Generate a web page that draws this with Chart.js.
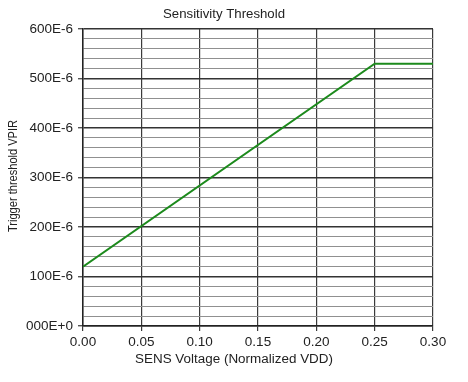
<!DOCTYPE html>
<html>
<head>
<meta charset="utf-8">
<script src="https://cdn.jsdelivr.net/npm/chart.js@4/dist/chart.umd.min.js"></script>
<style>
html,body{margin:0;padding:0;background:#fff;}
canvas{display:block;}
</style>
</head>
<body>
<canvas id="c" width="468" height="382"></canvas>
<script>
// Data
const sensVoltage = [0.00, 0.25, 0.30];
const triggerThreshold = [120e-6, 530e-6, 530e-6];
const xTicks = [0.00, 0.05, 0.10, 0.15, 0.20, 0.25, 0.30];
const yTickLabels = ['000E+0', '100E-6', '200E-6', '300E-6', '400E-6', '500E-6', '600E-6'];
const chartTitle = 'Sensitivity Threshold';
const xTitle = 'SENS Voltage (Normalized VDD)';
const yTitle = 'Trigger threshold VPIR';

const FONT = '"Liberation Sans", Arial, sans-serif';

function isMajor(v) {
  const n = Math.round(v * 1e6);
  return n % 100 === 0;
}

function fitText(ctx, text, cx, cy, size, targetW, rot) {
  ctx.save();
  ctx.font = size + 'px ' + FONT;
  const w = ctx.measureText(text).width;
  ctx.translate(cx, cy);
  if (rot) ctx.rotate(rot);
  ctx.scale(targetW / w, 1);
  ctx.fillText(text, 0, 0);
  ctx.restore();
}

const titlesPlugin = {
  id: 'titles',
  afterDraw(chart) {
    const ctx = chart.ctx;
    ctx.save();
    ctx.fillStyle = '#222';
    ctx.textAlign = 'center';
    ctx.textBaseline = 'middle';
    fitText(ctx, chartTitle, 224, 15, 12.5, 122, 0);
    fitText(ctx, xTitle, 234, 360, 12.5, 198, 0);
    fitText(ctx, yTitle, 14, 176, 12.5, 112, -Math.PI / 2);
    ctx.restore();
  }
};

new Chart(document.getElementById('c'), {
  type: 'line',
  data: {
    datasets: [{
      data: sensVoltage.map((x, i) => ({ x: x, y: triggerThreshold[i] })),
      borderColor: '#1c8a1c',
      borderWidth: 2,
      pointRadius: 0,
      fill: false,
      tension: 0
    }]
  },
  options: {
    responsive: false,
    animation: false,
    layout: { padding: { top: 29, left: 0, right: 35, bottom: 0 } },
    plugins: {
      legend: { display: false },
      title: { display: false },
      tooltip: { enabled: false }
    },
    scales: {
      x: {
        type: 'linear',
        min: xTicks[0],
        max: xTicks[xTicks.length - 1],
        afterBuildTicks(scale) { scale.ticks = xTicks.map(v => ({ value: v })); },
        afterFit(scale) { scale.height = 56; },
        ticks: {
          color: '#222',
          font: { family: FONT, size: 13.5 },
          padding: 3,
          maxRotation: 0,
          callback: v => Number(v).toFixed(2)
        },
        grid: {
          color: '#3a3a3a',
          lineWidth: 1.2,
          tickLength: 5,
          tickColor: '#3a3a3a'
        },
        border: { color: '#222', width: 1.5 }
      },
      y: {
        type: 'linear',
        min: 0,
        max: 600e-6,
        afterFit(scale) { scale.width = 83; },
        ticks: {
          stepSize: 20e-6,
          color: '#222',
          font: { family: FONT, size: 13.5 },
          padding: 5,
          autoSkip: false,
          callback: function (v) {
            if (!isMajor(v)) return '';
            const idx = Math.round(v * 1e6 / 100);
            return yTickLabels[idx];
          }
        },
        grid: {
          color: ctx => (ctx.tick && isMajor(ctx.tick.value)) ? '#333' : '#909090',
          lineWidth: ctx => (ctx.tick && isMajor(ctx.tick.value)) ? 1.4 : 1,
          tickLength: 5,
          tickColor: ctx => (ctx.tick && isMajor(ctx.tick.value)) ? '#555' : 'rgba(0,0,0,0)'
        },
        border: { color: '#222', width: 1.5 }
      }
    }
  },
  plugins: [titlesPlugin]
});
</script>
</body>
</html>
